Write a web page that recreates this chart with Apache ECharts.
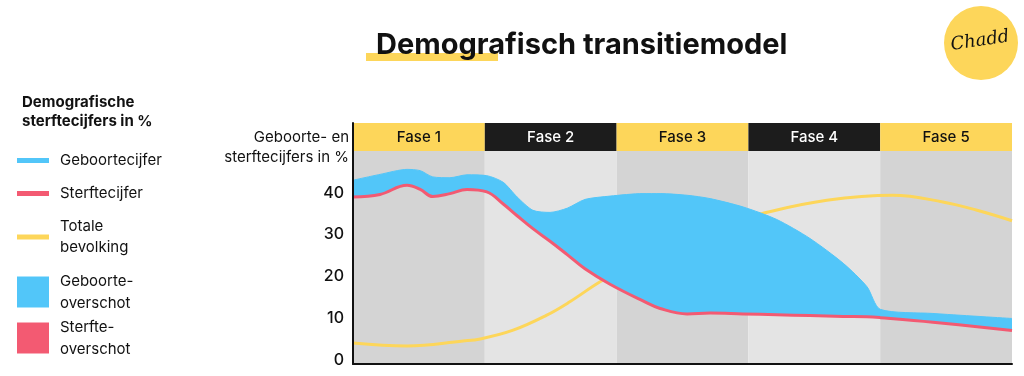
<!DOCTYPE html>
<html>
<head>
<meta charset="utf-8">
<script src="https://cdn.jsdelivr.net/npm/echarts@6/dist/echarts.min.js"></script>
<style>
  html, body { margin: 0; padding: 0; background: #fff; }
  #chart { width: 1024px; height: 376px; }
</style>
</head>
<body>
<div id="chart"></div>
<script>
// fases (kop en achtergrondbanden)
const phases = ['Fase 1', 'Fase 2', 'Fase 3', 'Fase 4', 'Fase 5']

// x-posities (0-100 over de hele tijdas)
const xPos = [0, 4.1, 8.2, 10.2, 12.1, 14.7, 17.3, 20.3, 22.8, 24.9, 27.3, 29.9, 32.5, 35.2,
  39.0, 44.0, 46.6, 50.7, 54.2, 59.2, 64.3, 69.3, 74.4, 78.0, 80.0, 88.0, 100]
// geboortecijfer
const geboorte = [43.0, 44.4, 45.6, 45.3, 43.8, 43.6, 44.3, 44.1, 42.5, 39.0, 35.8, 35.3, 36.3, 38.4,
  39.2, 39.8, 39.8, 39.4, 38.6, 36.6, 33.6, 29.1, 23.1, 17.5, 12.1, 11.1, 9.9]
// sterftecijfer
const sterfte = [39.0, 39.6, 41.8, 40.8, 39.1, 39.8, 40.8, 40.2, 37.3, 34.5, 31.4, 28.4, 25.2, 21.8,
  18.1, 14.1, 12.3, 11.0, 11.2, 11.0, 10.8, 10.6, 10.4, 10.3, 10.1, 9.0, 7.0]

// totale bevolking
const bevolkingX = [0, 8.2, 16.7, 19.3, 24.3, 29.4, 32.9, 37.5, 45.1, 54.2, 62.5, 71.9, 81.9, 89.5, 94.7, 100]
const bevolking = [4.0, 3.3, 4.5, 5.0, 7.1, 10.7, 13.9, 18.7, 25.5, 31.5, 35.2, 38.2, 39.4, 37.8, 35.8, 33.3]

const yTicks = [0, 10, 20, 30, 40]

const FONT = 'Inter, "Noto Sans", sans-serif'
const YELLOW = '#fdd65a'
const BLACK = '#1c1c1c'
const BLUE = '#52c6f9'
const RED = '#f35a72'

const chart = echarts.init(document.getElementById('chart'))

// [y, x] zodat de eerste dimensie (y) gestapeld wordt
const yx = (xs, ys) => xs.map((x, i) => [ys[i], x])
const overschot = geboorte.map((v, i) => +(v - sterfte[i]).toFixed(2))

const option = {
  animation: false,
  textStyle: { fontFamily: FONT },
  title: [
    {
      text: 'Demografisch transitiemodel',
      left: 371,
      top: 26,
      textStyle: { fontSize: 29, fontWeight: 'bold', color: '#111', fontFamily: FONT }
    },
    {
      text: 'Demografische\nsterftecijfers in %',
      left: 17,
      top: 88,
      textStyle: { fontSize: 15, fontWeight: 'bold', color: '#111', lineHeight: 19, fontFamily: FONT }
    },
    {
      text: 'Geboorte- en\nsterftecijfers in %',
      left: 344,
      top: 122,
      textAlign: 'right',
      textStyle: { fontSize: 15, fontWeight: 'normal', color: '#111', lineHeight: 20, align: 'right', fontFamily: FONT }
    }
  ],
  graphic: [
    { type: 'rect', shape: { x: 366, y: 53, width: 132, height: 8 }, style: { fill: YELLOW }, z: 0 },
    { type: 'circle', shape: { cx: 981, cy: 43, r: 37 }, style: { fill: YELLOW }, z: 0 },
    {
      type: 'text', x: 980, y: 41, rotation: 0.15, z: 1,
      style: {
        text: 'Chadd', fill: '#111', align: 'center', verticalAlign: 'middle',
        font: 'italic 18px "DejaVu Serif", serif'
      }
    }
  ],
  legend: [
    {
      orient: 'vertical',
      left: 17,
      top: 150,
      padding: 0,
      itemWidth: 32,
      itemHeight: 5,
      itemGap: 12,
      icon: 'rect',
      selectedMode: false,
      data: ['Geboortecijfer', 'Sterftecijfer', 'Totale bevolking'],
      formatter: name => name.replace(' ', '\n'),
      textStyle: { fontSize: 15, color: '#111', lineHeight: 21, padding: [0, 0, 0, 6], fontFamily: FONT }
    },
    {
      orient: 'vertical',
      left: 17,
      top: 270,
      padding: 0,
      itemWidth: 32,
      itemHeight: 31,
      itemGap: 2,
      icon: 'rect',
      selectedMode: false,
      data: ['Geboorte-overschot', 'Sterfte-overschot'],
      formatter: name => name.replace('-', '-\n'),
      textStyle: { fontSize: 15, color: '#111', lineHeight: 22, padding: [0, 0, 0, 6], fontFamily: FONT }
    }
  ],
  grid: [
    { left: 353, right: 12, top: 151, bottom: 12 },
    { left: 353, right: 12, top: 123, height: 28 }
  ],
  xAxis: [
    {
      type: 'value', gridIndex: 0, min: 0, max: 100, z: 10,
      axisLine: { onZero: false, lineStyle: { color: '#111', width: 2 } },
      axisTick: { show: false }, axisLabel: { show: false }, splitLine: { show: false }
    },
    { type: 'category', gridIndex: 0, data: phases, show: false },
    { type: 'category', gridIndex: 1, data: phases, show: false }
  ],
  yAxis: [
    {
      type: 'value', gridIndex: 0, min: -1, max: 50, z: 10,
      axisLine: { show: true, lineStyle: { color: '#111', width: 2 } },
      axisTick: { show: false },
      splitLine: { show: false },
      axisLabel: {
        customValues: yTicks, margin: 9,
        fontSize: 16, fontWeight: 500, color: '#111', fontFamily: FONT
      }
    },
    { type: 'value', gridIndex: 0, min: 0, max: 1, show: false },
    {
      type: 'value', gridIndex: 1, min: 0, max: 1, z: 10,
      axisLine: { show: true, lineStyle: { color: '#111', width: 2 } },
      axisTick: { show: false }, axisLabel: { show: false }, splitLine: { show: false }
    }
  ],
  series: [
    {
      // achtergrondbanden per fase
      type: 'bar', xAxisIndex: 1, yAxisIndex: 1, z: 0, silent: true,
      barWidth: '100%', barCategoryGap: '0%',
      data: phases.map((p, i) => ({ value: 1, itemStyle: { color: i % 2 ? '#e4e4e4' : '#d4d4d4' } }))
    },
    {
      // kopbalk met fasenamen
      type: 'bar', xAxisIndex: 2, yAxisIndex: 2, z: 1, silent: true,
      barWidth: '100%', barCategoryGap: '0%',
      data: phases.map((p, i) => ({
        value: 1,
        itemStyle: { color: i % 2 ? BLACK : YELLOW },
        label: { color: i % 2 ? '#fff' : '#111' }
      })),
      label: {
        show: true, position: 'inside', fontSize: 15, fontWeight: 500, fontFamily: FONT,
        formatter: p => phases[p.dataIndex]
      }
    },
    {
      name: 'Totale bevolking', type: 'line', z: 2, smooth: 0.4, showSymbol: false,
      color: YELLOW, lineStyle: { width: 3, color: YELLOW },
      encode: { x: 1, y: 0 },
      data: yx(bevolkingX, bevolking)
    },
    {
      name: 'Sterftecijfer', type: 'line', stack: 'rate', z: 5, smooth: 0.4, showSymbol: false,
      color: RED, lineStyle: { width: 3, color: RED },
      encode: { x: 1, y: 0 },
      data: yx(xPos, sterfte)
    },
    {
      name: 'Geboorte-overschot', type: 'line', stack: 'rate', z: 3, smooth: 0.25, showSymbol: false,
      color: BLUE, lineStyle: { width: 0 }, areaStyle: { color: BLUE, opacity: 1 },
      encode: { x: 1, y: 0 },
      data: yx(xPos, overschot)
    },
    {
      name: 'Geboortecijfer', type: 'line', z: 4, smooth: 0.25, showSymbol: false,
      color: BLUE, lineStyle: { width: 1, color: BLUE },
      encode: { x: 1, y: 0 },
      data: yx(xPos, geboorte)
    },
    {
      name: 'Sterfte-overschot', type: 'line', color: RED, data: []
    }
  ]
}

chart.setOption(option)
</script>
</body>
</html>
